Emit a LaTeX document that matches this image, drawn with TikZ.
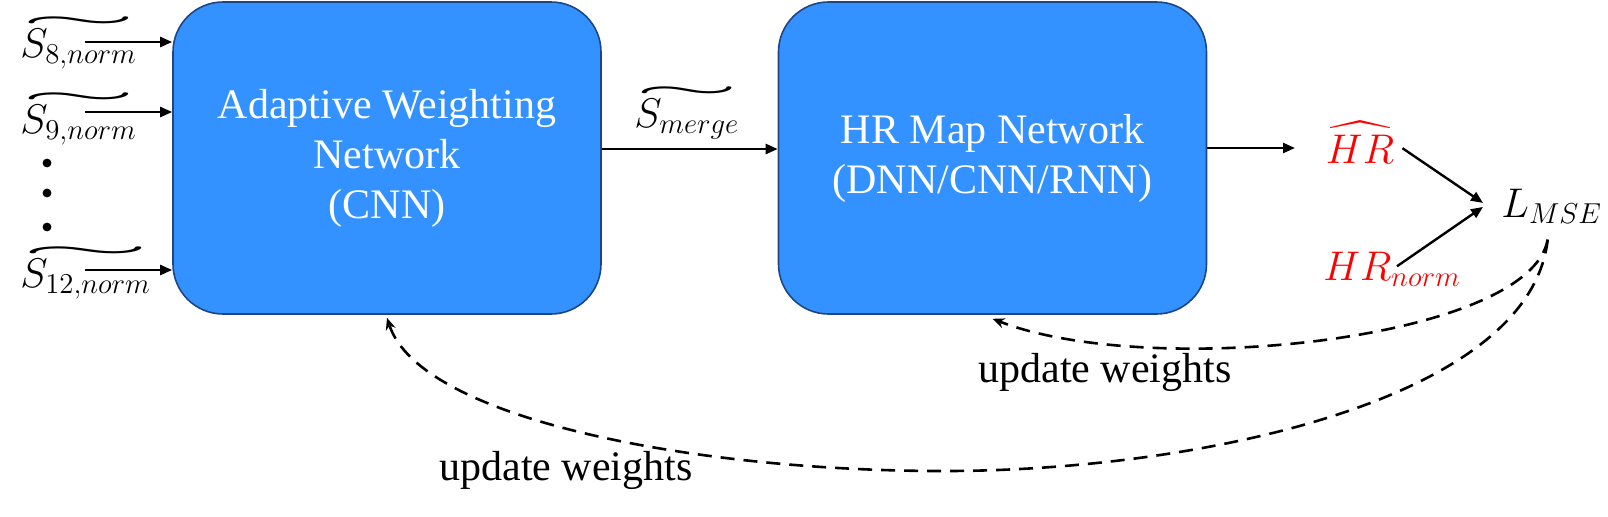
\documentclass[tikz,border=0pt]{standalone}
\usepackage{amsmath}
\usepackage{graphicx}
\usepackage{fontspec}
\setmainfont{Liberation Serif}
\usetikzlibrary{arrows.meta}
\definecolor{boxblue}{RGB}{51,146,255}
\definecolor{boxline}{RGB}{30,70,135}
\newlength\tilw
\newcommand{\wtil}[1]{\settowidth{\tilw}{$#1$}\makebox[0pt][l]{\raisebox{0.7em}{\resizebox{\tilw}{0.22em}{$\boldsymbol{\sim}$}}}$#1$}

\begin{document}
\begin{tikzpicture}[x=0.5pt, y=0.5pt, font=\fontsize{21}{25}\selectfont,
    netbox/.style={draw=boxline, line width=0.8pt, fill=boxblue, rounded corners=25pt,
        minimum width=214pt, minimum height=156pt, text=white, align=center, inner sep=0pt},
    lbl/.style={inner sep=1pt, font=\fontsize{22}{26}\selectfont},
    arr/.style={-{Triangle[length=6pt,width=5pt]}, line width=1.2pt},
    back/.style={-{Stealth[length=6pt,width=5pt]}, line width=1.3pt, dash pattern=on 7pt off 4.5pt}]
    \useasboundingbox (0,0) rectangle (1608,516);
    % Redes
    \node[netbox] (awn) at (387,358) {Adaptive Weighting\\Network\\(CNN)};
    \node[netbox] (hrn) at (992.5,358) {HR Map Network\\(DNN/CNN/RNN)};
    % Entradas
    \node[lbl, anchor=base west] (s8) at (18,459) {\wtil{S_{8,norm}}};
    \node[lbl, anchor=base west] (s9) at (18,383) {\wtil{S_{9,norm}}};
    \node[lbl, anchor=base west] (s12) at (18,229) {\wtil{S_{12,norm}}};
    \coordinate (in8) at (85,474);
    \coordinate (in9) at (85,404);
    \coordinate (in12) at (85,246);
    \foreach \c in {in8,in9,in12}
        \draw[arr] (\c) -- (\c -| awn.west);
    \foreach \y in {353,323,289}
        \fill (47,\y) circle (2.2pt);
    % Ligacao entre redes
    \node[lbl, anchor=base west] (smerge) at (632,389) {\wtil{S_{merge}}};
    \draw[arr] ([yshift=4.5pt]awn.east) -- ([yshift=4.5pt]hrn.west);
    % Saida e perda
    \coordinate (hrout) at (1295,368);
    \draw[arr] (hrout -| hrn.east) -- (hrout);
    \node[lbl, anchor=base, text=red] (hrhat) at (1360,353) {$\widehat{HR}$};
    \node[lbl, anchor=base west, text=red] (hrnorm) at (1321,236) {$HR_{norm}$};
    \node[lbl, anchor=base west, font=\fontsize{21}{25}\selectfont] (lmse) at (1499,299) {$L_{MSE}$};
    \draw[arr] ([shift={(3pt,-3pt)}]hrhat.east) -- ([shift={(-8pt,1.5pt)}]lmse.west);
    \draw[arr] ([shift={(38pt,-8.5pt)}]hrnorm.north west) -- ([shift={(-8pt,-0.5pt)}]lmse.west);
    % Retropropagacao
    \draw[back] ([shift={(-2pt,-7pt)}]lmse.south) .. controls (1530,176) and (1150,136) .. ([yshift=-2pt]hrn.south);
    \draw[back] ([shift={(-2pt,-7pt)}]lmse.south) .. controls (1530,116) and (1200,46) .. (950,45)
        .. controls (700,44) and (420,96) .. ([yshift=-1.5pt]awn.south);
    \node[anchor=base] (upd2) at (1105,134) {update weights};
    \node[anchor=base] (upd1) at (566,36) {update weights};
\end{tikzpicture}
\end{document}
